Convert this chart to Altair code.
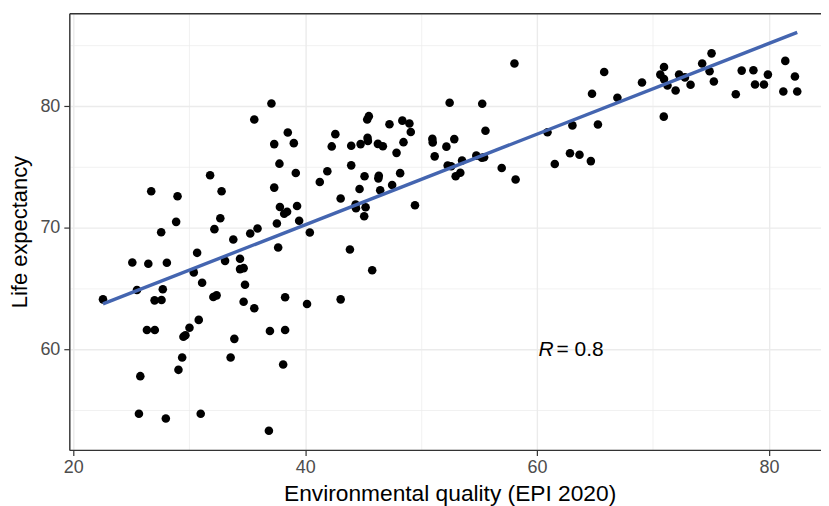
import altair as alt
import pandas as pd

# Environmental quality (EPI 2020) per country
epi = [22.56, 25.09, 25.49, 25.78, 25.66, 26.47, 26.72, 26.35, 27.03, 27.01,
       27.61, 27.58, 27.72, 28.07, 27.98, 28.99, 28.87, 29.07, 29.39, 29.50,
       29.67, 30.02, 30.39, 30.68, 30.82, 30.99, 31.11, 31.80, 32.17, 32.08,
       32.36, 32.79, 32.68, 33.09, 33.57, 33.80, 33.89, 34.38, 34.38, 34.69,
       34.69, 34.81, 35.26, 35.61, 35.61, 35.89, 36.87, 36.96, 37.09, 37.33,
       37.33, 37.56, 37.67, 37.78, 37.82, 38.19, 38.44, 38.10, 38.27, 38.27,
       38.50, 39.02, 39.19, 39.30, 39.48, 40.16, 40.40, 41.26, 41.91, 42.29,
       42.60, 43.06, 43.06, 43.86, 43.97, 43.97, 44.35, 44.38, 44.69, 44.78,
       45.09, 45.12, 45.21, 45.35, 45.49, 45.38, 45.41, 45.78, 46.27, 46.70,
       46.35, 46.31, 46.47, 47.27, 47.50, 47.88, 48.19, 48.38, 48.48, 48.99,
       49.11, 49.47, 50.97, 51.00, 51.17, 52.18, 52.29, 52.59, 52.46, 52.86,
       52.98, 53.38, 53.53, 54.76, 55.24, 55.43, 55.27, 55.55, 56.95, 58.05,
       58.15, 60.90, 61.53, 62.84, 63.05, 63.66, 64.64, 64.74, 65.25, 65.79,
       66.93, 69.05, 70.63, 70.95, 70.95, 71.25, 71.95, 72.25, 72.75, 73.24,
       70.93, 74.24, 75.05, 74.88, 75.25, 77.14, 77.65, 78.66, 78.80, 79.57,
       79.91, 81.41, 82.24, 81.24, 82.44]

# Life expectancy per country
life = [64.10, 67.14, 64.87, 57.78, 54.69, 67.03, 73.00, 61.58, 61.58, 64.02,
        64.05, 69.63, 64.93, 67.11, 54.30, 72.59, 70.48, 58.30, 59.31, 61.03,
        61.15, 61.77, 66.32, 67.93, 62.41, 54.69, 65.47, 74.31, 69.88, 64.29,
        64.43, 73.00, 70.78, 67.27, 59.31, 69.03, 60.85, 67.44, 66.59, 66.67,
        63.91, 65.30, 69.52, 78.91, 63.37, 69.93, 53.29, 61.50, 80.22, 76.88,
        73.30, 70.34, 68.37, 75.27, 71.71, 71.15, 71.31, 58.74, 64.27, 61.58,
        77.84, 76.96, 74.50, 71.79, 70.57, 63.72, 69.61, 73.76, 74.64, 76.69,
        77.70, 72.40, 64.10, 68.21, 76.75, 75.13, 71.90, 71.60, 73.19, 76.88,
        70.94, 74.23, 71.68, 78.91, 79.18, 77.39, 77.14, 66.49, 76.90, 76.71,
        74.27, 74.06, 73.08, 78.52, 73.51, 76.16, 74.49, 78.81, 77.04, 78.58,
        77.88, 71.85, 77.31, 77.02, 75.87, 76.67, 75.11, 75.05, 80.29, 77.29,
        74.24, 74.52, 75.53, 75.93, 75.75, 75.80, 80.20, 77.98, 74.91, 83.51,
        73.96, 77.86, 75.24, 76.13, 78.42, 76.01, 75.48, 81.02, 78.50, 82.82,
        80.70, 81.95, 82.60, 83.23, 82.23, 81.70, 81.29, 82.60, 82.37, 81.77,
        79.14, 83.51, 84.35, 82.87, 82.03, 80.99, 82.93, 82.96, 81.78, 81.78,
        82.60, 83.73, 82.44, 81.21, 81.21]

# correlation annotation
label_x = [60]
label_y = [60]
label_r = ["R"]
label_rest = ["= 0.8"]

x_ticks = [20, 30, 40, 50, 60, 70, 80]
y_ticks = [55, 60, 65, 70, 75, 80, 85]

FONT = "Liberation Sans"
W, H = 754, 438
BORDER = "#333333"

df = pd.DataFrame({"epi": epi, "life": life})
lab = pd.DataFrame({"epi": label_x, "life": label_y, "r": label_r, "rest": label_rest})

x_scale = alt.Scale(domain=[19.656, 84.49], nice=False, zero=False)
y_scale = alt.Scale(domain=[51.71, 87.65], nice=False, zero=False)

mx = "datum.value % 20 === 0"
my = "datum.value % 10 === 0"

x_axis = alt.Axis(
    values=x_ticks,
    labelExpr=f"{mx} ? datum.label : ''",
    gridColor="#EBEBEB",
    gridWidth={"condition": {"test": mx, "value": 1.4}, "value": 0.7},
    tickOpacity={"condition": {"test": mx, "value": 1}, "value": 0},
    tickColor=BORDER, tickSize=5.5, tickWidth=1.2,
    domainColor=BORDER, domainWidth=1.4,
    labelColor="#4D4D4D", labelFontSize=18, labelPadding=3, labelFont=FONT,
    titleFont=FONT, titleFontSize=22.8, titleFontWeight="normal", titleColor="black",
    titleX=381.5, titleY=50.5, titleBaseline="alphabetic", titleAlign="center",
)
y_axis = alt.Axis(
    values=y_ticks,
    labelExpr=f"{my} ? datum.label : ''",
    gridColor="#EBEBEB",
    gridWidth={"condition": {"test": my, "value": 1.4}, "value": 0.7},
    tickOpacity={"condition": {"test": my, "value": 1}, "value": 0},
    tickColor=BORDER, tickSize=5.5, tickWidth=1.2,
    domainColor=BORDER, domainWidth=1.4,
    labelColor="#4D4D4D", labelFontSize=18, labelPadding=4, labelFont=FONT,
    titleFont=FONT, titleFontSize=22, titleFontWeight="normal", titleColor="black",
    titleX=-43, titleY=219, titleAngle=270, titleBaseline="alphabetic", titleAlign="center",
)
top_axis = alt.Axis(
    orient="top", labels=False, ticks=False, grid=False,
    domainColor=BORDER, domainWidth=1.4, title="",
)

Y = alt.Y("life:Q", scale=y_scale, axis=y_axis, title="Life expectancy")

points = alt.Chart(df).mark_circle(size=74, color="black", opacity=1).encode(
    x=alt.X("epi:Q", scale=x_scale, axis=x_axis, title="Environmental quality (EPI 2020)"),
    y=Y,
)

line = alt.Chart(df).transform_regression("epi", "life").mark_line(
    color="#4465B0", strokeWidth=3.4
).encode(
    x=alt.X("epi:Q", scale=x_scale, axis=top_axis, title=""),
    y=Y,
)

r_text = alt.Chart(lab).mark_text(
    font=FONT, fontSize=21, fontStyle="italic", align="left", baseline="middle",
    color="black", dx=1.5, dy=0.5
).encode(x=alt.X("epi:Q", scale=x_scale, axis=None), y=Y, text="r:N")

rest_text = alt.Chart(lab).mark_text(
    font=FONT, fontSize=21, align="left", baseline="middle", color="black", dx=19.5, dy=0.5
).encode(x=alt.X("epi:Q", scale=x_scale, axis=None), y=Y, text="rest:N")

chart = alt.layer(points, line, r_text, rest_text).resolve_axis(x="independent").properties(
    width=W, height=H,
    autosize="none",
    padding={"left": 61.5, "top": 4.5, "right": 0, "bottom": 56},
).configure_view(strokeWidth=0).configure(font=FONT)

chart.save("out.html", embed_options={"renderer": "svg", "actions": False})
